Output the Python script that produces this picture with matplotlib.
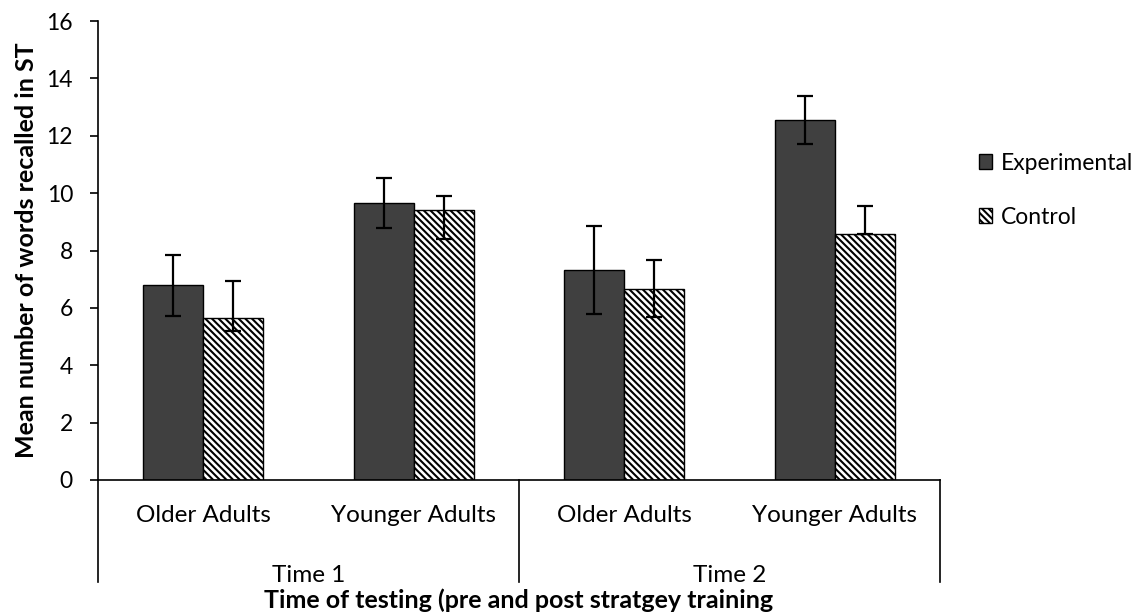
import matplotlib
matplotlib.use("Agg")

import matplotlib.pyplot as plt
import matplotlib.transforms as mtransforms
import numpy as np

# ---- DATA ----
groups = ["Older Adults", "Younger Adults", "Older Adults", "Younger Adults"]
times = ["Time 1", "Time 2"]
series = ["Experimental", "Control"]
exp_mean = [6.78, 9.66, 7.33, 12.55]
exp_err = [1.08, 0.87, 1.53, 0.85]
ctrl_mean = [5.66, 9.42, 6.67, 8.56]
ctrl_err_up = [1.27, 0.49, 1.01, 0.98]
ctrl_err_dn = [0.46, 1.02, 0.98, 0.0]

plt.rcParams["font.family"] = ["Lato", "DejaVu Sans"]
plt.rcParams["hatch.linewidth"] = 1.5

fig = plt.figure(figsize=(11.45, 6.16), dpi=100)
ax = fig.add_axes([98 / 1145, 1 - 480 / 616, 842 / 1145, 459 / 616])

x = np.arange(len(groups))
w = 0.285

# ---- BARS ----
ax.bar(x - w / 2, exp_mean, w, color="#404040", edgecolor="black",
       linewidth=1, label=series[0], zorder=2)
ax.bar(x + w / 2, ctrl_mean, w, color="white", edgecolor="black",
       hatch="\\\\\\\\\\", linewidth=1, label=series[1], zorder=2)

ax.errorbar(x - w / 2, exp_mean, yerr=exp_err, fmt="none", ecolor="black",
            elinewidth=1.6, capsize=5.5, capthick=1.6, zorder=3)
ax.errorbar(x + w / 2, ctrl_mean, yerr=[ctrl_err_dn, ctrl_err_up], fmt="none",
            ecolor="black", elinewidth=1.6, capsize=5.5, capthick=1.6, zorder=3)

# ---- AXES ----
ax.set_xlim(-0.5, len(groups) - 0.5)
ax.set_ylim(0, 16)
ax.set_yticks(np.arange(0, 17, 2))
ax.tick_params(axis="y", labelsize=16.5, length=6, width=1.2, direction="out", pad=12)
ax.set_xticks([])
for s in ["top", "right"]:
    ax.spines[s].set_visible(False)
ax.spines["left"].set_linewidth(1.2)
ax.spines["bottom"].set_linewidth(1.2)
ax.spines["left"].set_bounds(0, 16)

ax.set_ylabel("Mean number of words recalled in ST", fontsize=18,
              fontweight="bold", labelpad=6)

# ---- MULTI-LEVEL X LABELS ----
trans = mtransforms.blended_transform_factory(ax.transData, ax.transAxes)
for xi, g in zip(x, groups):
    ax.text(xi, -0.078, g, transform=trans, ha="center", va="center", fontsize=17.5)
for i, t in enumerate(times):
    ax.text(2 * i + 0.5, -0.207, t, transform=trans, ha="center",
            va="center", fontsize=17.5)
for xs in [-0.5, 1.5, 3.5]:
    ax.plot([xs, xs], [0, -0.222], transform=trans, color="black",
            linewidth=1.2, clip_on=False)

ax.text(1.5, -0.262, "Time of testing (pre and post stratgey training",
        transform=trans, ha="center", va="center", fontsize=18,
        fontweight="bold")

# ---- LEGEND ----
fig.legend(loc="upper left", bbox_to_anchor=(958 / 1145, 1 - 132 / 616),
           frameon=False, fontsize=16.5, handlelength=0.6, handleheight=0.6,
           handletextpad=0.35, labelspacing=1.45)

plt.savefig("out.png", dpi=100)
plt.close()
